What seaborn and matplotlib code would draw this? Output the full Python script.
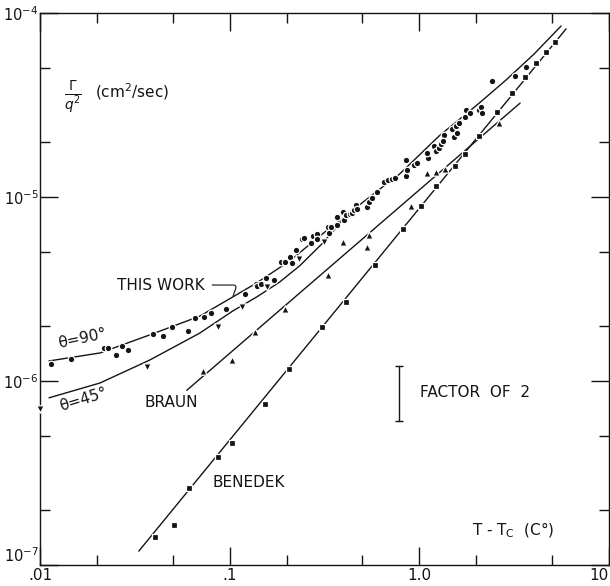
import numpy as np
import pandas as pd
import seaborn as sns
import matplotlib.pyplot as plt
from matplotlib.ticker import FixedLocator, FixedFormatter, LogLocator, NullFormatter

# ---- values: T - Tc (C deg) vs Gamma/q^2 (cm^2/sec) ----

# this work, theta = 90 deg (circles)
w90_t = [0.0114, 0.0146, 0.0217, 0.0228, 0.0251, 0.0270, 0.0290, 0.0393, 0.0444, 0.0495,
         0.0601, 0.0654, 0.0730, 0.0794, 0.0953, 0.120, 0.137, 0.140, 0.146, 0.155,
         0.171, 0.186, 0.195, 0.209, 0.212, 0.225, 0.242, 0.248, 0.270, 0.274,
         0.287, 0.290, 0.328, 0.336, 0.344, 0.366, 0.370, 0.394, 0.403, 0.413,
         0.429, 0.439, 0.455, 0.466, 0.472, 0.532, 0.546, 0.566, 0.601, 0.654,
         0.687, 0.721, 0.748, 0.855, 0.865, 0.855, 0.942, 0.975, 1.115, 1.102,
         1.199, 1.228, 1.274, 1.306, 1.355, 1.337, 1.493, 1.528, 1.566, 1.585,
         1.625, 1.746, 1.766, 1.854, 2.07, 2.119, 2.146, 2.42, 3.2, 3.656]
w90_g = [1.24e-6, 1.32e-6, 1.51e-6, 1.51e-6, 1.38e-6, 1.55e-6, 1.47e-6, 1.80e-6, 1.76e-6, 1.97e-6,
         1.87e-6, 2.20e-6, 2.23e-6, 2.34e-6, 2.46e-6, 2.97e-6, 3.37e-6, 3.28e-6, 3.37e-6, 3.63e-6,
         3.54e-6, 4.44e-6, 4.44e-6, 4.72e-6, 4.38e-6, 5.15e-6, 5.9e-6, 6.0e-6, 5.6e-6, 6.1e-6,
         6.3e-6, 5.9e-6, 6.9e-6, 6.4e-6, 6.9e-6, 7.05e-6, 7.8e-6, 8.3e-6, 7.5e-6, 8.0e-6,
         8.1e-6, 8.2e-6, 8.5e-6, 9.05e-6, 8.6e-6, 8.83e-6, 9.4e-6, 9.9e-6, 1.06e-5, 1.21e-5,
         1.24e-5, 1.25e-5, 1.27e-5, 1.30e-5, 1.40e-5, 1.59e-5, 1.49e-5, 1.53e-5, 1.63e-5, 1.73e-5,
         1.89e-5, 1.78e-5, 1.85e-5, 1.94e-5, 2.17e-5, 2.01e-5, 2.34e-5, 2.12e-5, 2.43e-5, 2.23e-5,
         2.52e-5, 2.72e-5, 2.97e-5, 2.86e-5, 2.97e-5, 3.08e-5, 2.86e-5, 4.27e-5, 4.55e-5, 5.1e-5]
curve90_t = [0.01115, 0.0207, 0.0379, 0.0695, 0.1037, 0.1387, 0.207, 0.3084, 0.4285, 0.58,
             0.785, 1.274, 2.07, 2.87, 4.03, 5.59]
curve90_g = [1.285e-6, 1.42e-6, 1.78e-6, 2.25e-6, 2.86e-6, 3.41e-6, 4.49e-6, 6.3e-6, 8.2e-6, 1.05e-5,
             1.33e-5, 2.15e-5, 3.24e-5, 4.33e-5, 5.99e-5, 8.5e-5]

# this work, theta = 45 deg (inverted triangles)
w45_t = [0.0100, 0.0366, 0.0865, 0.1156, 0.1566, 0.2307, 0.3126]
w45_g = [7.05e-7, 1.19e-6, 1.97e-6, 2.52e-6, 3.24e-6, 4.6e-6, 5.7e-6]
curve45_t = [0.01115, 0.0207, 0.0379, 0.0695, 0.1037, 0.1387, 0.1834, 0.2336, 0.3084, 0.4028]
curve45_g = [8.1e-7, 9.75e-7, 1.30e-6, 1.82e-6, 2.40e-6, 2.86e-6, 3.45e-6, 4.22e-6, 5.6e-6, 7.7e-6]

# Braun (triangles)
braun_t = [0.0721, 0.1025, 0.1355, 0.1946, 0.328, 0.394, 0.532, 0.546, 0.908, 1.102,
           1.228, 1.371, 2.636]
braun_g = [1.13e-6, 1.30e-6, 1.85e-6, 2.46e-6, 3.77e-6, 5.7e-6, 5.35e-6, 6.2e-6, 8.94e-6, 1.35e-5,
           1.37e-5, 1.42e-5, 2.52e-5]
braun_line_t = [0.0594, 3.40]
braun_line_g = [8.9e-7, 3.24e-5]

# Benedek (squares)
bene_t = [0.0403, 0.0507, 0.0608, 0.0865, 0.1025, 0.1528, 0.2046, 0.308, 0.413, 0.587,
          0.824, 1.025, 1.228, 1.546, 1.746, 2.07, 2.575, 3.084, 3.61, 4.13,
          4.66, 5.2]
bene_g = [1.42e-7, 1.65e-7, 2.62e-7, 3.86e-7, 4.6e-7, 7.5e-7, 1.16e-6, 1.97e-6, 2.69e-6, 4.27e-6,
          6.7e-6, 8.94e-6, 1.15e-5, 1.47e-5, 1.71e-5, 2.15e-5, 2.90e-5, 3.67e-5, 4.49e-5, 5.35e-5,
          6.1e-5, 7.0e-5]
bene_line_t = [0.0332, 5.94]
bene_line_g = [1.19e-7, 8.2e-5]

# "factor of 2" scale bar
factor_t = 0.785
factor_lo = 6.07e-7

x_ticks = [0.01, 0.1, 1.0, 10.0]
x_labels = ['.01', '.1', '1.0', '10']
y_ticks = [1e-7, 1e-6, 1e-5, 1e-4]
y_labels = [r'$10^{-7}$', r'$10^{-6}$', r'$10^{-5}$', r'$10^{-4}$']

sns.set_style('ticks')
plt.rcParams['font.family'] = ['DejaVu Sans']
plt.rcParams['mathtext.fontset'] = 'dejavusans'
ink = '#141414'

fig = plt.figure(figsize=(6.1, 5.86), dpi=100)
ax = fig.add_axes([40 / 610, 1 - 565 / 586, 569 / 610, 552 / 586])

lines = [(curve90_t, curve90_g), (curve45_t, curve45_g),
         (braun_line_t, braun_line_g), (bene_line_t, bene_line_g)]
for t, g in lines:
    sns.lineplot(x=t, y=g, ax=ax, color=ink, lw=1.0, sort=False, estimator=None)

points = [(w90_t, w90_g, 'o', 22), (w45_t, w45_g, 'v', 28),
          (braun_t, braun_g, '^', 28), (bene_t, bene_g, 's', 20)]
for t, g, m, s in points:
    sns.scatterplot(x=t, y=g, ax=ax, marker=m, s=s, color=ink,
                    edgecolor='white', linewidth=0.9, zorder=3, clip_on=False)

ax.set_xscale('log')
ax.set_yscale('log')
ax.set_xlim(0.01, 10)
ax.set_ylim(1e-7, 1e-4)

ax.xaxis.set_major_locator(FixedLocator(x_ticks))
ax.xaxis.set_major_formatter(FixedFormatter(x_labels))
ax.xaxis.set_minor_locator(LogLocator(base=10, subs=(2.0, 5.0)))
ax.xaxis.set_minor_formatter(NullFormatter())
ax.yaxis.set_major_locator(FixedLocator(y_ticks))
ax.yaxis.set_major_formatter(FixedFormatter(y_labels))
ax.yaxis.set_minor_locator(LogLocator(base=10, subs=(2.0, 5.0), numticks=10))
ax.yaxis.set_minor_formatter(NullFormatter())

ax.tick_params(which='both', direction='in', top=True, right=True, color=ink,
               labelcolor=ink, width=1.0)
ax.tick_params(which='major', length=13, labelsize=11, pad=2)
ax.tick_params(axis='y', which='major', labelsize=10.5, pad=1)
ax.tick_params(which='minor', length=7)
for sp in ax.spines.values():
    sp.set_color(ink)
    sp.set_linewidth(1.0)
ax.get_xticklabels()[-1].set_horizontalalignment('right')
ax.get_yticklabels()[0].set_verticalalignment('bottom')

# factor-of-two bar
ax.plot([factor_t, factor_t], [factor_lo, 2 * factor_lo], color=ink, lw=1.0,
        marker='_', markersize=6, markeredgewidth=1.0)

# texts
txt = dict(color=ink, fontsize=11, transform=ax.transAxes)
ax.text(0.058, 0.848, r'$\frac{\Gamma}{q^2}$', ha='center', va='center', color=ink,
        fontsize=14, transform=ax.transAxes)
ax.text(0.0967, 0.857, '(cm$^2$/sec)', ha='left', va='center', **txt)
ax.annotate('THIS WORK', xy=(0.1037, 2.86e-6), xytext=(0.1353, 0.5072),
            textcoords='axes fraction', ha='left', va='center', color=ink, fontsize=11,
            arrowprops=dict(arrowstyle='-', color=ink, lw=0.8, shrinkA=3, shrinkB=1,
                            connectionstyle='angle,angleA=0,angleB=70,rad=4'))
ax.text(0.0738, 0.4112, 'θ=90°', ha='center', va='center', rotation=12, **txt)
ax.text(0.0756, 0.2989, 'θ=45°', ha='center', va='center', rotation=17, **txt)
ax.text(0.1845, 0.2935, 'BRAUN', ha='left', va='center', **txt)
ax.text(0.304, 0.1486, 'BENEDEK', ha='left', va='center', **txt)
ax.text(0.6678, 0.3116, 'FACTOR  OF  2', ha='left', va='center', **txt)
ax.text(0.759, 0.0634, r'T - T$_\mathrm{C}$  (C°)', ha='left', va='center', **txt)

fig.savefig('out.png', dpi=100)
